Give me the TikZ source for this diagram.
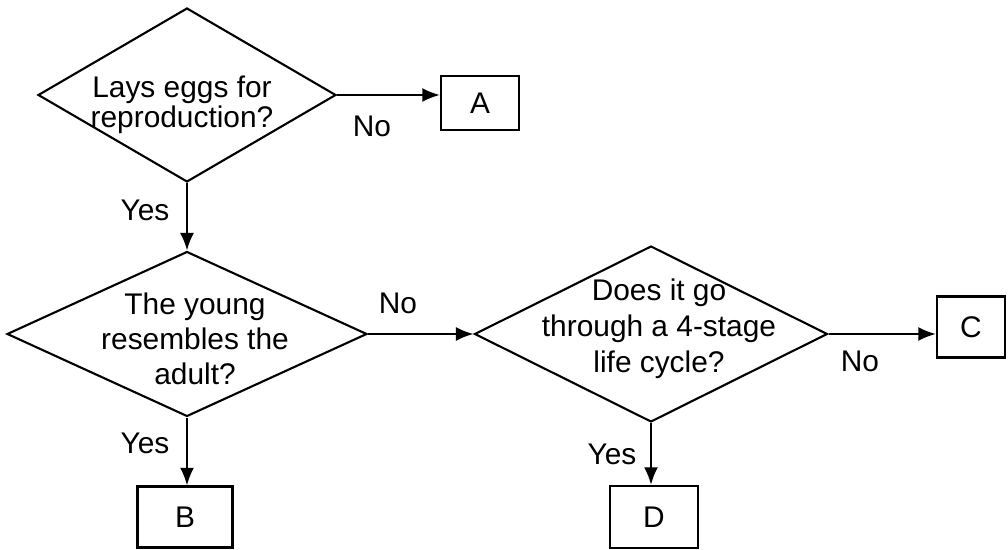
\documentclass[tikz,border=0pt]{standalone}
\usepackage{fontspec}
\setmainfont{Liberation Sans}
\usetikzlibrary{arrows.meta,shapes.geometric,positioning}

\begin{document}
\begin{tikzpicture}[x=0.02cm,y=-0.02cm,
  font=\fontsize{17}{20}\selectfont,
  decision/.style={draw,diamond,inner sep=0pt,line width=1.2pt},
  answer/.style={draw,rectangle,inner sep=0pt,line width=1.3pt},
  flow/.style={line width=1.2pt,-{Latex[length=10pt,width=8pt]}},
  qtext/.style={align=center,inner sep=0pt}]
  \useasboundingbox (0,0) rectangle (1008,550);
  % questions
  \node[decision,minimum width=5.96cm,minimum height=3.48cm] (q1) at (187,95) {};
  \node[decision,minimum width=7.2cm,minimum height=3.3cm] (q2) at (187,334) {};
  \node[decision,minimum width=7.06cm,minimum height=3.52cm] (q3) at (651,334) {};
  \node[qtext,font=\fontsize{17}{14}\selectfont] (q1txt) at (182,105) {Lays eggs for\\reproduction?};
  \node[qtext] (q2txt) at (195,339) {The young\\resembles the\\adult?};
  \node[qtext,font=\fontsize{17}{20.5}\selectfont] (q3txt) at (659,329) {Does it go\\through a 4-stage\\life cycle?};
  % answers
  \node[answer,minimum width=1.56cm,minimum height=1.08cm] (A) at (480,103) {A};
  \node[answer,minimum width=1.9cm,minimum height=1.22cm] (B) at (185,517) {B};
  \node[answer,minimum width=1.36cm,minimum height=1.22cm] (C) at (971,327) {C};
  \node[answer,minimum width=1.76cm,minimum height=1.24cm] (D) at (654,517) {D};
  % arrows
  \draw[flow] (q1.east) -- (q1.east -| A.west);
  \draw[flow] (q1.south) -- (q2.north);
  \draw[flow] (q2.south) -- (q2.south |- B.north);
  \draw[flow] (q2.east) -- (q3.west);
  \draw[flow] (q3.east) -- (q3.east -| C.west);
  \draw[flow] (q3.south) -- (q3.south |- D.north);
  % yes / no
  \node (no1) at (372,126) {No};
  \node (yes1) at (145,210) {Yes};
  \node (no2) at (398,303) {No};
  \node (yes2) at (145,443) {Yes};
  \node (no3) at (860,361) {No};
  \node (yes3) at (612,454) {Yes};
\end{tikzpicture}
\end{document}
